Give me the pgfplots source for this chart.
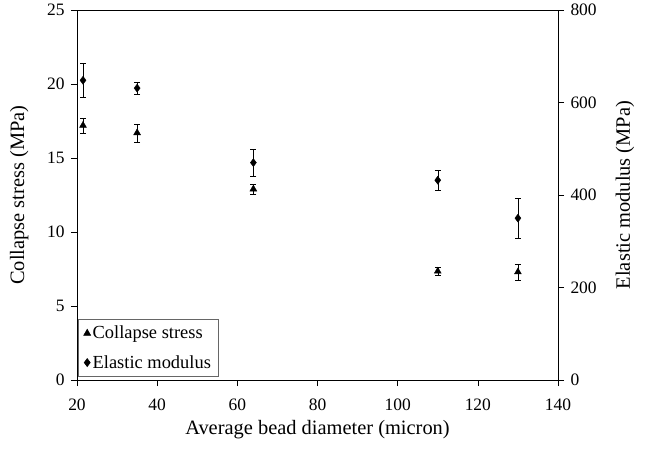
\documentclass[border=0pt]{standalone}
\usepackage{pgfplots}
\pgfplotsset{compat=1.18}
\usepackage{fontspec}
\setmainfont{Liberation Serif}
\begin{document}
\begin{tikzpicture}[x=1bp,y=1bp]
\pgfplotsset{
  every axis/.append style={
    scale only axis, width=481bp, height=370bp,
    xmin=20, xmax=140,
    /pgf/number format/assume math mode=true,
    tick style={black, line width=0.6pt},
    tick align=outside,
    major tick length=6bp,
    font=\fontsize{17.5}{20}\selectfont,
    tick label style={font=\fontsize{17.5}{20}\selectfont},
    label style={font=\fontsize{20.5}{23}\selectfont},
    axis line style={line width=0.8pt},
  },
}
\begin{axis}[
  name=ax,
  ymin=0, ymax=25,
  ytick={0,5,...,25},
  xtick={20,40,...,140},
  ytick pos=left, xtick pos=lower,
  xlabel={Average bead diameter (micron)},
  ylabel={Collapse stress (MPa)},
  ylabel style={at={(axis description cs:-0.12,0.5)}, anchor=center},
  xlabel style={at={(axis description cs:0.5,-0.135)}, anchor=center},
  xticklabel style={yshift=-9bp},
  yticklabel style={xshift=-3bp},
]
\addplot+[only marks, mark=triangle*, mark size=4bp, black, mark options={fill=black, draw=black},
  error bars/.cd, y dir=both, y explicit, error bar style={black, line width=0.5pt}, error mark options={rotate=90, mark size=3bp, black}]
  coordinates {
  (21.5,17.2) +- (0,0.5)
  (35,16.7) +- (0,0.6)
  (64,12.9) +- (0,0.35)
  (110,7.35) +- (0,0.3)
  (130,7.3) +- (0,0.55)
};
\end{axis}
\begin{axis}[
  ymin=0, ymax=800,
  ytick={0,200,...,800},
  axis y line*=right,
  axis x line=none,
  ylabel={Elastic modulus (MPa)},
  ylabel style={at={(axis description cs:1.139,0.5)}, anchor=center},
  yticklabel style={xshift=3bp},
  legend style={at={(0.003,0.008)}, anchor=south west, draw=black!60, line width=0.6pt,
    font=\fontsize{18.5}{21}\selectfont, row sep=11bp, inner xsep=5bp, inner ysep=5bp,
    legend cell align=left},
  legend image code/.code={\draw[#1] plot coordinates {(0.2cm,0cm)};},
]
\addlegendimage{only marks, mark=triangle*, mark size=4bp, black, mark options={fill=black}}
\addlegendentry{Collapse stress}
\addplot+[only marks, mark=diamond*, mark size=4bp, black, mark options={fill=black, draw=black},
  error bars/.cd, y dir=both, y explicit, error bar style={black, line width=0.5pt}, error mark options={rotate=90, mark size=3bp, black}]
  coordinates {
  (21.5,648) +- (0,36)
  (35,631) +- (0,13)
  (64,470) +- (0,30)
  (110,432) +- (0,22)
  (130,350) +- (0,44)
};
\addlegendentry{Elastic modulus}
\end{axis}
\path[use as bounding box] ([shift={(-77bp,-70bp)}]ax.south west) rectangle ([shift={(87bp,10bp)}]ax.north east);
\end{tikzpicture}
\end{document}
